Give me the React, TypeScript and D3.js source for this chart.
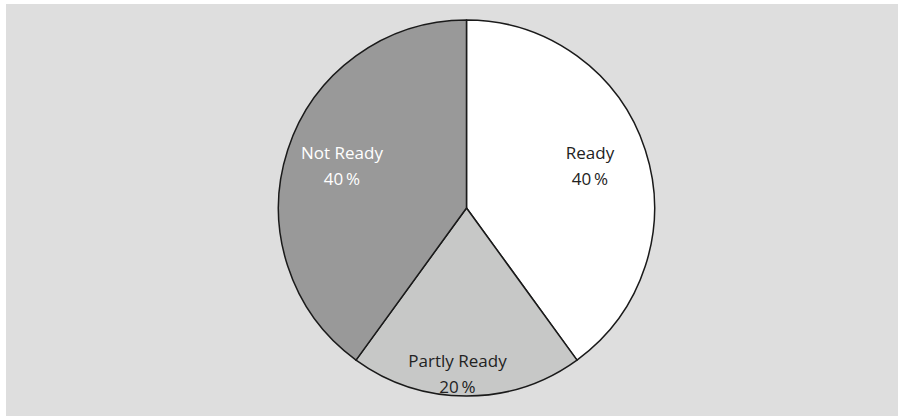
import React from "react";
import * as d3 from "d3";

const categories = ["Ready", "Partly Ready", "Not Ready"];
const values = [40, 20, 40];
const valueLabels = ["40\u2009%", "20\u2009%", "40\u2009%"];
const fills = ["#ffffff", "#c7c8c7", "#999999"];
const textColors = ["#222222", "#222222", "#ffffff"];

const W = 898;
const H = 417;
const cx = 466.5;
const cy = 208;
const R = 188;

export default function App() {
  const pie = d3.pie<number>().sort(null).value((d) => d);
  const arcs = pie(values);
  const arcGen = d3.arc<d3.PieArcDatum<number>>().innerRadius(0).outerRadius(R);
  const labelArc = d3.arc<d3.PieArcDatum<number>>().innerRadius(R * 0.73).outerRadius(R * 0.73);
  const labelAdj = [
    [-7, -3],
    [-9, 26],
    [6, -3],
  ];
  return (
    <svg width={W} height={H} style={{ position: "absolute", left: 0, top: 0 }}>
      <rect x={6} y={4} width={W - 6} height={H - 5} fill="#dedede" />
      <g transform={`translate(${cx},${cy})`}>
        {arcs.map((a, i) => (
          <path key={i} d={arcGen(a) || ""} fill={fills[i]} stroke="#1a1a1a" strokeWidth={1.5} strokeLinejoin="round" />
        ))}
        {arcs.map((a, i) => {
          const [x, y] = labelArc.centroid(a);
          const lx = x + labelAdj[i][0];
          const ly = y + labelAdj[i][1];
          return (
            <text key={i} x={lx} y={ly} textAnchor="middle" fill={textColors[i]} fontFamily="'Open Sans', sans-serif" fontSize={17}>
              <tspan x={lx} dy={-4}>{categories[i]}</tspan>
              <tspan x={lx} dy={26}>{valueLabels[i]}</tspan>
            </text>
          );
        })}
      </g>
    </svg>
  );
}
